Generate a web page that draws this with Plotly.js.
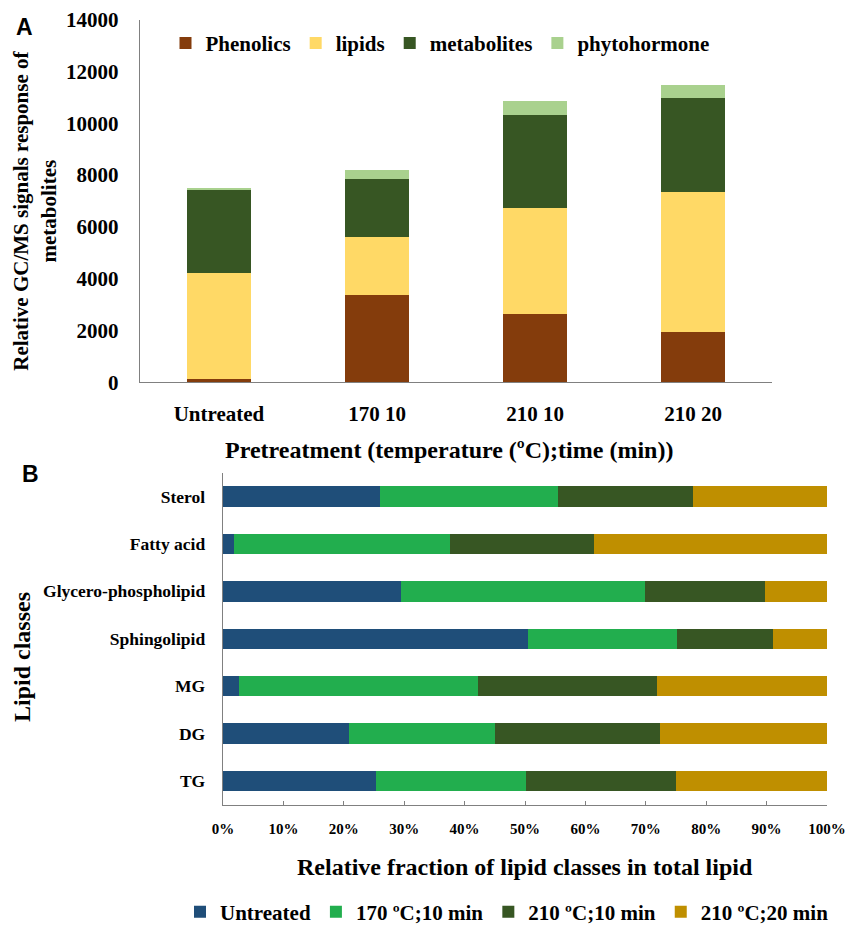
<!DOCTYPE html>
<html>
<head>
<meta charset="utf-8">
<script src="https://cdn.plot.ly/plotly-3.0.1.min.js"></script>
<style>html,body{margin:0;padding:0;background:#fff;}#chart{width:847px;height:933px;}</style>
</head>
<body>
<div id="chart"></div>
<script>
// ---- Panel A data ----
const pretreatments = ['Untreated', '170 10', '210 10', '210 20'];
const phenolics    = [110, 3350, 2650, 1950];
const lipids       = [4120, 2240, 4060, 5400];
const metabolites  = [3180, 2250, 3610, 3640];
const phytohormone = [80, 370, 550, 490];
const yTicksA = [0, 2000, 4000, 6000, 8000, 10000, 12000, 14000];

// ---- Panel B data (percent of total lipid) ----
const lipidClasses = ['TG', 'DG', 'MG', 'Sphingolipid', 'Glycero-phospholipid', 'Fatty acid', 'Sterol'];
const untreated = [25.3, 20.9, 2.6, 50.5, 29.5, 1.8, 26.0];
const t170_10   = [24.9, 24.1, 39.6, 24.7, 40.4, 35.7, 29.4];
const t210_10   = [24.8, 27.4, 29.7, 15.8, 19.8, 23.9, 22.4];
const t210_20   = [25.0, 27.6, 28.1, 9.0, 10.3, 38.6, 22.2];
const xTicksB = [0, 10, 20, 30, 40, 50, 60, 70, 80, 90, 100];

const W = 847, H = 933;
const px = v => v / W;
const py = v => 1 - v / H;
const SERIF = '"Liberation Serif", "Times New Roman", Times, serif';
const SANS = '"Liberation Sans", Arial, sans-serif';
const f = (size, color) => ({family: SERIF, size: size, color: color || '#000', weight: 'bold'});

function barA(name, vals, color) {
  return {type: 'bar', name: name, x: pretreatments, y: vals, xaxis: 'x', yaxis: 'y',
    width: 0.41, marker: {color: color, line: {width: 0}}, legend: 'legend', hoverinfo: 'skip'};
}
function barB(name, vals, color) {
  return {type: 'bar', orientation: 'h', name: name, y: lipidClasses, x: vals, xaxis: 'x2', yaxis: 'y2',
    width: 0.43, marker: {color: color, line: {width: 0}}, legend: 'legend2', hoverinfo: 'skip'};
}

const data = [
  barA('Phenolics', phenolics, '#843C0C'),
  barA('lipids', lipids, '#FFD966'),
  barA('metabolites', metabolites, '#375623'),
  barA('phytohormone', phytohormone, '#A9D18E'),
  barB('Untreated', untreated, '#1F4E79'),
  barB('170 ºC;10 min', t170_10, '#22AE4E'),
  barB('210 ºC;10 min', t210_10, '#375623'),
  barB('210 ºC;20 min', t210_20, '#BF8F00')
];

function ann(text, x, y, font, angle) {
  return {text: text, xref: 'paper', yref: 'paper', x: px(x), y: py(y), xanchor: 'center', yanchor: 'middle',
    showarrow: false, textangle: angle || 0, font: font};
}

const layout = {
  width: W, height: H,
  margin: {l: 0, r: 0, t: 0, b: 0},
  paper_bgcolor: '#fff', plot_bgcolor: '#fff',
  barmode: 'stack',
  font: f(20),
  xaxis: {
    domain: [px(140), px(772)], anchor: 'y', type: 'category', range: [-0.5, 3.5],
    showline: true, linecolor: '#808080', linewidth: 1.3, showgrid: false, zeroline: false,
    ticks: '', tickfont: f(21), ticklabelstandoff: 12, automargin: false
  },
  yaxis: {
    domain: [py(388), py(20)], anchor: 'x', range: [0, 14000],
    tickvals: yTicksA, ticktext: yTicksA.map(v => String(v)),
    showline: true, linecolor: '#808080', linewidth: 1.3, showgrid: false, zeroline: false,
    ticks: '', tickfont: f(21), ticklabelstandoff: 16, automargin: false
  },
  xaxis2: {
    domain: [px(223), px(827)], anchor: 'y2', range: [0, 100],
    tickvals: xTicksB, ticktext: xTicksB.map(v => v + '%'),
    showline: true, linecolor: '#808080', linewidth: 1.3, showgrid: false, zeroline: false,
    ticks: 'inside', ticklen: 4, tickcolor: '#808080', tickfont: f(15), ticklabelstandoff: 10, automargin: false
  },
  yaxis2: {
    domain: [py(817), py(480)], anchor: 'x2', type: 'category', range: [-0.5, 6.5],
    showline: true, linecolor: '#808080', linewidth: 1.3, showgrid: false, zeroline: false,
    ticks: '', tickfont: f(17.5), ticklabelstandoff: 13, automargin: false
  },
  legend: {
    orientation: 'h', x: px(440), xanchor: 'center', y: py(44), yanchor: 'middle',
    font: f(21), traceorder: 'normal', bgcolor: 'rgba(0,0,0,0)', itemwidth: 30
  },
  legend2: {
    orientation: 'h', x: px(507), xanchor: 'center', y: py(926), yanchor: 'middle',
    font: f(21), traceorder: 'normal', bgcolor: 'rgba(0,0,0,0)', itemwidth: 30
  },
  annotations: [
    ann('A', 24, 27, {family: SANS, size: 23, color: '#000', weight: 'bold'}),
    ann('B', 30, 481, {family: SANS, size: 23, color: '#000', weight: 'bold'}),
    ann('Relative GC/MS signals response of<br>metabolites', 35, 214, f(21), -90),
    ann('Pretreatment (temperature (ºC);time (min))', 449, 457, f(24)),
    ann('Relative fraction of lipid classes in total lipid', 525, 880, f(24)),
    ann('Lipid classes', 22, 667, f(24), -90)
  ]
};

Plotly.newPlot('chart', data, layout, {displayModeBar: false, staticPlot: true});
</script>
</body>
</html>
